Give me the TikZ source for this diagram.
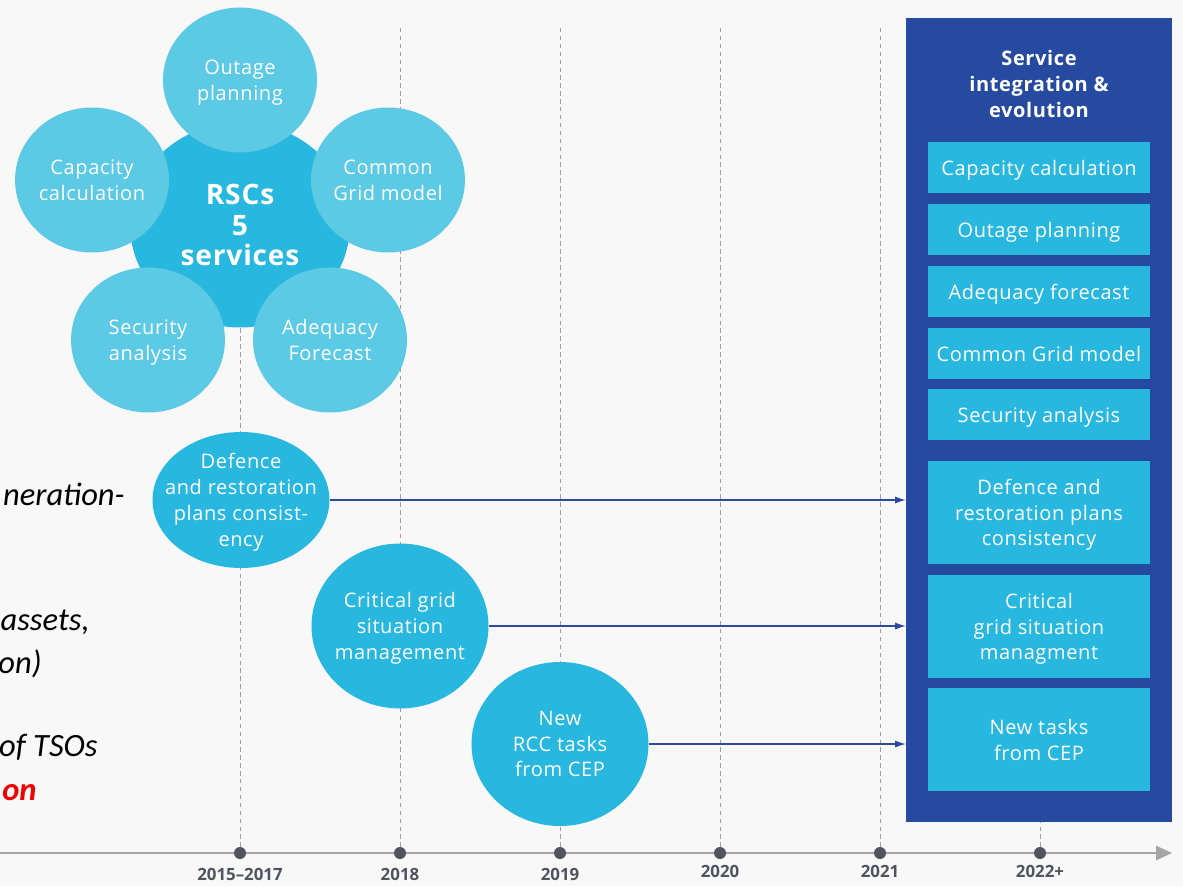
\documentclass[tikz,border=0pt]{standalone}
\usepackage{fontspec}
\setmainfont{Open Sans}[LetterSpace=3]
\newfontfamily\yearfont{Open Sans}
\newfontfamily\notefont{Carlito}
\usetikzlibrary{positioning,arrows.meta,shapes.geometric}
\definecolor{rscBlue}{RGB}{39,183,223}
\definecolor{rscLight}{RGB}{92,201,229}
\definecolor{rscNavy}{RGB}{38,74,160}
\definecolor{rscArrow}{RGB}{46,75,155}
\definecolor{rscGray}{RGB}{80,84,92}
\definecolor{rscLine}{RGB}{165,165,165}
\definecolor{rscBack}{RGB}{248,248,248}
\definecolor{rscRed}{RGB}{240,0,0}
\tikzset{
    base/.style={font=\fontsize{11.4}{14.7}\selectfont, align=center, text=white,
                 inner sep=1pt, text depth=0pt},
    hub/.style={base, ellipse, fill=rscBlue, minimum width=4.4cm, minimum height=4.1cm,
                inner xsep=-8pt, font=\fontsize{16}{17.5}\selectfont\bfseries},
    service/.style={base, ellipse, fill=rscLight, minimum width=3.08cm, minimum height=2.9cm,
                    inner xsep=-10pt, inner ysep=-4pt},
    newtask/.style={base, ellipse, fill=rscBlue, minimum width=3.54cm,
                    inner xsep=-12pt, inner ysep=-6pt},
    panel/.style={rectangle, fill=rscNavy, minimum width=5.32cm, minimum height=16.08cm},
    paneltitle/.style={base, font=\fontsize{11.4}{14.7}\selectfont\bfseries},
    taskbox/.style={base, rectangle, fill=rscBlue, minimum width=4.44cm, minimum height=1.02cm},
    tallbox/.style={taskbox, minimum height=2.06cm},
    flow/.style={-{Latex[length=6pt,width=4pt]}, semithick, color=rscArrow},
    axis/.style={-{Triangle[length=9pt,width=8pt]}, line width=1.1pt, color=rscLine},
    guide/.style={dashed, dash pattern=on 2.5pt off 2pt, thin, color=gray!75},
    tick/.style={circle, fill=rscGray, minimum size=0.24cm, inner sep=0pt},
    year/.style={font=\yearfont\fontsize{9.6}{10}\selectfont\bfseries, text=rscGray, inner sep=1pt},
    note/.style={font=\notefont\fontsize{18.5}{20}\selectfont\itshape, text=black, inner sep=0pt}
}
\begin{document}
\begin{tikzpicture}[x=0.02cm, y=-0.02cm]
  \useasboundingbox[fill=rscBack] (0,0) rectangle (1183,886);

  % timeline
  \coordinate (tstart) at (0,853);
  \coordinate (tend) at (1172,853);
  \draw[axis] (tstart) -- (tend);
  \node[tick] (t1) at (240,853) {};
  \node[tick] (t2) at (400,853) {};
  \node[tick] (t3) at (560,853) {};
  \node[tick] (t4) at (720,853) {};
  \node[tick] (t5) at (880,853) {};
  \node[tick] (t6) at (1040,853) {};
  \node[year, below=4pt of t1] (y1) {2015–2017};
  \node[year, below=4pt of t2] (y2) {2018};
  \node[year, below=4pt of t3] (y3) {2019};
  \node[year, below=2pt of t4] (y4) {2020};
  \node[year, below=2pt of t5] (y5) {2021};
  \node[year, below=2pt of t6] (y6) {2022+};

  % dashed year guides
  \coordinate (g1) at (240,28);
  \coordinate (g2) at (400,28);
  \coordinate (g3) at (560,28);
  \coordinate (g4) at (720,28);
  \coordinate (g5) at (880,28);
  \coordinate (g6) at (1040,28);
  \draw[guide] (g1) -- (t1);
  \draw[guide] (g2) -- (t2);
  \draw[guide] (g3) -- (t3);
  \draw[guide] (g4) -- (t4);
  \draw[guide] (g5) -- (t5);
  \draw[guide] (g6) -- (t6);

  % the five services round the hub
  \node[hub] (rsc) at (240,225) {RSCs\\5\\services};
  \node[service] (outage) at (240,80) {Outage\\planning};
  \node[service] (capacity) at (92,180) {Capacity\\calculation};
  \node[service] (cgm) at (388,180) {Common\\Grid model};
  \node[service] (security) at (148,340) {Security\\analysis};
  \node[service] (adequacy) at (330,340) {Adequacy\\Forecast};

  % new tasks
  \node[newtask, minimum height=2.72cm] (defence) at (241,500) {Defence\\and restoration\\plans consist-\\ency};
  \node[newtask, minimum height=3.3cm] (critical) at (400,626) {Critical grid\\situation\\management};
  \node[newtask, minimum height=3.28cm] (newrcc) at (560,744) {New\\RCC tasks\\from CEP};

  % integration panel
  \node[panel] (panel) at (1039,420) {};
  \node[paneltitle] (title) at (1039,84) {Service\\integration \&\\evolution};
  \node[taskbox] (b1) at (1039,167.5) {Capacity calculation};
  \node[taskbox] (b2) at (1039,229.5) {Outage planning};
  \node[taskbox] (b3) at (1039,291.5) {Adequacy forecast};
  \node[taskbox] (b4) at (1039,353.5) {Common Grid model};
  \node[taskbox] (b5) at (1039,414.5) {Security analysis};
  \node[tallbox] (b6) at (1039,512.5) {Defence and\\restoration plans\\consistency};
  \node[tallbox] (b7) at (1039,626.5) {Critical\\grid situation\\managment};
  \node[tallbox] (b8) at (1039,739.5) {New tasks\\from CEP};

  \draw[flow] (defence) -- (defence -| panel.west);
  \draw[flow] (critical) -- (critical -| panel.west);
  \draw[flow] (newrcc) -- (newrcc -| panel.west);

  % cut-off notes at the left edge
  \node[note, anchor=base east] (n1) at (125,505) {neration-};
  \node[note, anchor=base east] (n2) at (90,630) {assets,};
  \node[note, anchor=base east] (n3) at (42,673) {on)};
  \node[note, anchor=base east] (n4) at (98,756) {of TSOs};
  \node[note, anchor=base east, text=rscRed, font=\notefont\fontsize{18.5}{20}\selectfont\bfseries\itshape] (n5) at (37,800) {on};
\end{tikzpicture}
\end{document}
